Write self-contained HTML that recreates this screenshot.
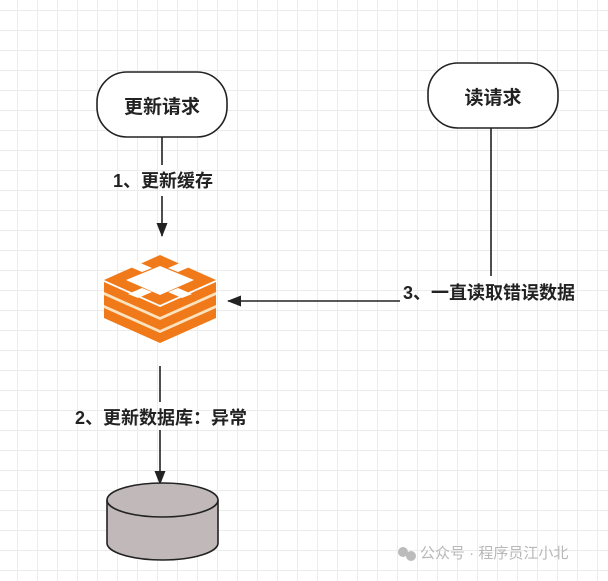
<!DOCTYPE html>
<html><head><meta charset="utf-8"><style>
html,body{margin:0;padding:0;background:#fff;}
body{width:608px;height:581px;overflow:hidden;position:relative;
background-image:linear-gradient(#ececec 1px,transparent 1px),linear-gradient(90deg,#ececec 1px,transparent 1px);
background-size:20px 20px;background-position:17px 10px;}
svg{position:absolute;left:0;top:0;}
text{font-family:"Liberation Sans","Noto Sans CJK SC",sans-serif;font-weight:bold;fill:#222;}
</style></head><body>
<svg width="608" height="581" viewBox="0 0 608 581">
<defs><marker id="a" markerWidth="14" markerHeight="12" refX="13" refY="5.5" orient="auto" markerUnits="userSpaceOnUse"><path d="M0,0 L14,5.5 L0,11 z" fill="#222"/></marker></defs>
<rect x="97" y="72" width="130" height="65" rx="30" fill="#fff" stroke="#222" stroke-width="1.6"/>
<text x="162" y="113" font-size="19" text-anchor="middle">更新请求</text>
<rect x="428" y="63" width="130" height="65" rx="30" fill="#fff" stroke="#222" stroke-width="1.6"/>
<text x="493" y="104" font-size="19" text-anchor="middle">读请求</text>
<line x1="162" y1="137" x2="162" y2="165" stroke="#222" stroke-width="1.6"/>
<line x1="162" y1="196" x2="162" y2="236" stroke="#222" stroke-width="1.6" marker-end="url(#a)"/>
<text x="163" y="187" font-size="18" text-anchor="middle">1、更新缓存</text>
<line x1="491" y1="128" x2="491" y2="276" stroke="#222" stroke-width="1.6"/>
<line x1="400" y1="301" x2="228" y2="301" stroke="#222" stroke-width="1.6" marker-end="url(#a)"/>
<text x="489" y="299" font-size="18" text-anchor="middle">3、一直读取错误数据</text>
<line x1="160" y1="366" x2="160" y2="402" stroke="#222" stroke-width="1.6"/>
<line x1="160" y1="430" x2="160" y2="484" stroke="#222" stroke-width="1.6" marker-end="url(#a)"/>
<text x="161" y="424" font-size="18" text-anchor="middle">2、更新数据库：异常</text>
<g>
<polygon points="104,282 160,307 216,282 216,318 160,343 104,318" fill="#fbe3c0"/>
<polygon points="104,308 160,333 216,308 216,318 160,343 104,318" fill="#f07a1a"/>
<polygon points="104,295 160,320 216,295 216,305 160,330 104,305" fill="#f07a1a"/>
<polygon points="104,282 160,307 216,282 216,292 160,317 104,292" fill="#f07a1a"/>
<polygon points="160,255 216,280 160,305 104,280" fill="#f07a1a"/>
<polygon points="160,266 194,280 160,295 126,280" fill="#fff"/>
<polygon points="128,266 138,262 152,268 142,272" fill="#fff"/>
<polygon points="168,268 182,262 192,266 178,272" fill="#fff"/>
<polygon points="128,294 142,288 152,292 138,298" fill="#fff"/>
<polygon points="168,292 178,288 192,294 182,298" fill="#fff"/>
</g>
<path d="M107,500 L107,543 A55.5,17 0 0 0 218,543 L218,500" fill="#c1b9b9" stroke="#222" stroke-width="1.6"/>
<ellipse cx="162.5" cy="500" rx="55.5" ry="17" fill="#c1b9b9" stroke="#222" stroke-width="1.6"/>
<circle cx="403" cy="552" r="5" fill="#bbb"/><circle cx="411" cy="556" r="5" fill="#bbb"/>
<text x="420" y="558" font-size="15" style="font-weight:normal;fill:#b8b8b8">公众号 · 程序员江小北</text>
</svg>
</body></html>
